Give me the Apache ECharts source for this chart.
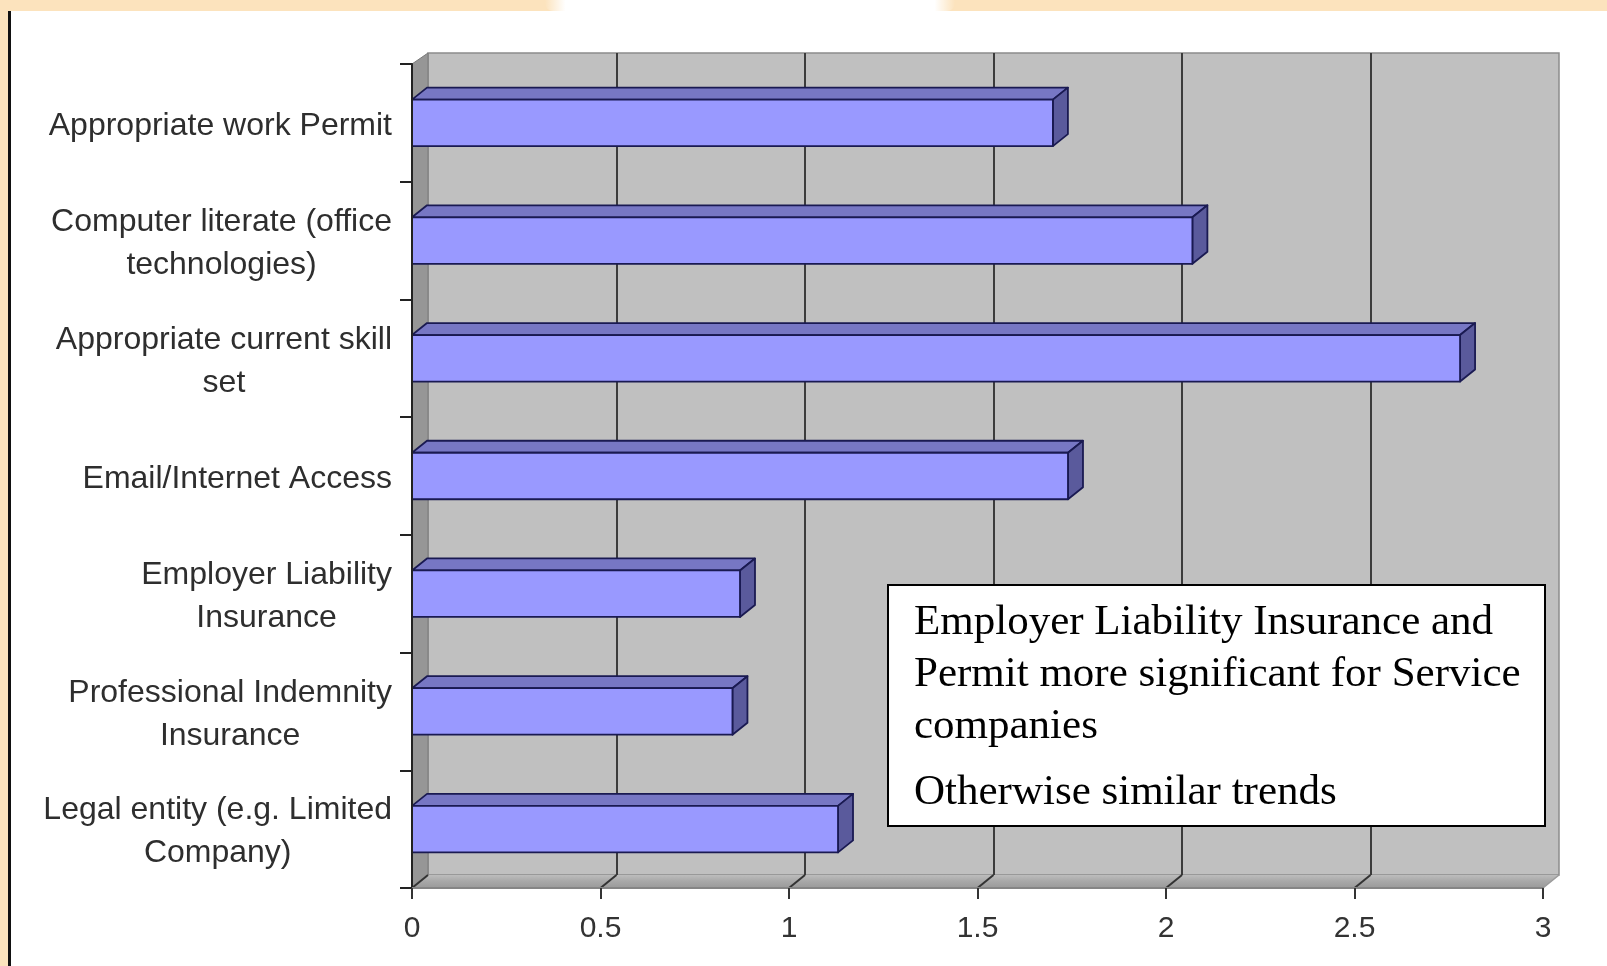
<!DOCTYPE html>
<html>
<head>
<meta charset="utf-8">
<script src="https://cdn.jsdelivr.net/npm/echarts@6/dist/echarts.min.js"></script>
<style>
html, body { margin: 0; padding: 0; background: #ffffff; }
#chart { width: 1607px; height: 966px; }
</style>
</head>
<body>
<div id="chart"></div>
<script>
// Requirements ranked by average score (0-3)
const categories = [
  'Appropriate work Permit',
  'Computer literate (office\ntechnologies)',
  'Appropriate current skill\nset',
  'Email/Internet Access',
  'Employer Liability\nInsurance',
  'Professional Indemnity\nInsurance',
  'Legal entity (e.g. Limited\nCompany)'
];
const scores = [1.70, 2.07, 2.78, 1.74, 0.87, 0.85, 1.13];
const xTicks = [0, 0.5, 1, 1.5, 2, 2.5, 3];
const noteParagraph = [
  'Employer Liability Insurance and',
  'Permit more significant for Service',
  'companies'
];
const noteFooter = 'Otherwise similar trends';

// Pseudo-3D depth of the plot box and of the bars (pixels)
const DX = 16, DY = 13;
const BDX = 15, BDY = 12;

const SANS = '"Liberation Sans", Arial, sans-serif';
const SERIF = '"Liberation Serif", "Times New Roman", serif';

const chart = echarts.init(document.getElementById('chart'), null, { renderer: 'canvas' });

function renderBar(params, api) {
  const val = api.value(0);
  const cat = api.value(1);
  const s = api.coord([0, cat]);
  const e = api.coord([val, cat]);
  const h = api.size([0, 1])[1] * 0.395;
  const x0 = s[0], x1 = e[0];
  const yT = s[1] - h / 2, yB = s[1] + h / 2;
  const edge = { stroke: '#1a1a52', lineWidth: 1.8, lineJoin: 'round' };
  return {
    type: 'group',
    children: [
      { type: 'polygon', shape: { points: [[x0, yT], [x1, yT], [x1 + BDX, yT - BDY], [x0 + BDX, yT - BDY]] },
        style: Object.assign({ fill: '#7777c4' }, edge) },
      { type: 'polygon', shape: { points: [[x1, yT], [x1 + BDX, yT - BDY], [x1 + BDX, yB - BDY], [x1, yB]] },
        style: Object.assign({ fill: '#5a5a9c' }, edge) },
      { type: 'rect', shape: { x: x0, y: yT, width: x1 - x0, height: yB - yT },
        style: Object.assign({ fill: '#9999ff' }, edge) }
    ]
  };
}

// Left wall, floor and the floor segments joining front ticks to back gridlines
function renderFrame(params, api) {
  const cs = params.coordSys;
  const v = api.value(0);
  const left = cs.x, top = cs.y, bottom = cs.y + cs.height, right = cs.x + cs.width;
  const x = api.coord([v, 0])[0];
  const children = [];
  if (params.dataIndex === 0) {
    children.push({
      type: 'polygon',
      shape: { points: [[left, bottom], [right, bottom], [right + DX, bottom - DY], [left + DX, bottom - DY]] },
      style: {
        fill: new echarts.graphic.LinearGradient(0, 0, 0, 1, [
          { offset: 0, color: '#bdbdbd' }, { offset: 0.45, color: '#a9a9a9' }, { offset: 1, color: '#9a9a9a' }
        ])
      }
    });
    children.push({
      type: 'polygon',
      shape: { points: [[left, top], [left + DX, top - 11], [left + DX, bottom - DY], [left, bottom]] },
      style: { fill: '#969696', stroke: '#7a7a7a', lineWidth: 1 }
    });
  }
  const last = params.dataIndex === xTicks.length - 1;
  children.push({
    type: 'line',
    shape: { x1: x, y1: bottom, x2: x + DX, y2: bottom - DY },
    style: { stroke: last ? '#9a9a9a' : '#333333', lineWidth: last ? 1.5 : 2 }
  });
  return { type: 'group', children: children };
}

const option = {
  backgroundColor: '#ffffff',
  animation: false,
  grid: [
    { left: 412, top: 64, right: 64, bottom: 78, show: false },
    { left: 412 + DX, top: 53, right: 64 - DX, bottom: 78 + DY, show: true,
      backgroundColor: '#c0c0c0', borderColor: '#8c8c8c', borderWidth: 1.5, z: 0 }
  ],
  xAxis: [
    {
      type: 'value', gridIndex: 0, min: xTicks[0], max: xTicks[xTicks.length - 1], interval: 0.5, z: 5,
      axisLine: { show: true, lineStyle: { color: '#858585', width: 2 } },
      axisTick: { show: true, length: 11, lineStyle: { color: '#333333', width: 2 } },
      axisLabel: { margin: 26, fontSize: 30, fontFamily: SANS, color: '#333333' },
      splitLine: { show: false }
    },
    {
      type: 'value', gridIndex: 1, min: xTicks[0], max: xTicks[xTicks.length - 1], interval: 0.5, z: 0,
      axisLine: { show: false }, axisTick: { show: false }, axisLabel: { show: false },
      splitLine: { show: true, showMinLine: false, showMaxLine: false,
        lineStyle: { color: '#3c3c3c', width: 2 } }
    }
  ],
  yAxis: [
    {
      type: 'category', gridIndex: 0, inverse: true, data: categories, z: 5,
      axisLine: { show: true, lineStyle: { color: '#222222', width: 2 } },
      axisTick: { show: true, length: 12, lineStyle: { color: '#222222', width: 2 } },
      axisLabel: {
        margin: 20,
        padding: [6, 0, 0, 0],
        formatter: function (value) {
          return value.split('\n').map(function (s) { return '{c|' + s + '}'; }).join('\n');
        },
        rich: {
          c: { align: 'center', fontSize: 32, lineHeight: 43, fontFamily: SANS, color: '#2e2e2e' }
        }
      },
      splitLine: { show: false }
    },
    {
      type: 'category', gridIndex: 1, inverse: true, data: categories, show: false
    }
  ],
  series: [
    {
      type: 'custom', name: 'frame', xAxisIndex: 0, yAxisIndex: 0, z: 1, silent: true,
      renderItem: renderFrame,
      encode: { x: 0, y: 1 },
      data: xTicks.map(function (t) { return [t, 0]; })
    },
    {
      type: 'custom', name: 'score', xAxisIndex: 0, yAxisIndex: 0, z: 3,
      renderItem: renderBar,
      encode: { x: 0, y: 1 },
      data: scores.map(function (v, i) { return [v, i]; })
    }
  ],
  graphic: [
    // page frame: peach bands and dark rule
    { type: 'rect', z: 1, shape: { x: 0, y: 0, width: 1607, height: 11 }, style: { fill: '#fce3bd' } },
    { type: 'rect', z: 1, shape: { x: 0, y: 0, width: 8, height: 966 }, style: { fill: '#fce3bd' } },
    { type: 'rect', z: 2, shape: { x: 545, y: 0, width: 410, height: 11, r: [0, 0, 8, 8] },
      style: { fill: new echarts.graphic.LinearGradient(1, 0, 0, 0, [
        { offset: 0, color: 'rgba(255,255,255,0)' }, { offset: 0.05, color: '#ffffff' },
        { offset: 0.95, color: '#ffffff' }, { offset: 1, color: 'rgba(255,255,255,0)' }
      ]) } },
    { type: 'rect', z: 3, shape: { x: 8, y: 11, width: 3, height: 955 }, style: { fill: '#111111' } },
    // note box
    { type: 'rect', z: 100, shape: { x: 888, y: 585, width: 657, height: 241 },
      style: { fill: '#ffffff', stroke: '#000000', lineWidth: 2 } },
    { type: 'text', z: 101, x: 914, y: 623,
      style: { text: noteParagraph[0], font: '43px ' + SERIF, fill: '#000000', verticalAlign: 'middle' } },
    { type: 'text', z: 101, x: 914, y: 675,
      style: { text: noteParagraph[1], font: '43px ' + SERIF, fill: '#000000', verticalAlign: 'middle' } },
    { type: 'text', z: 101, x: 914, y: 727,
      style: { text: noteParagraph[2], font: '43px ' + SERIF, fill: '#000000', verticalAlign: 'middle' } },
    { type: 'text', z: 101, x: 914, y: 793,
      style: { text: noteFooter, font: '43px ' + SERIF, fill: '#000000', verticalAlign: 'middle' } }
  ]
};

chart.setOption(option);
</script>
</body>
</html>
